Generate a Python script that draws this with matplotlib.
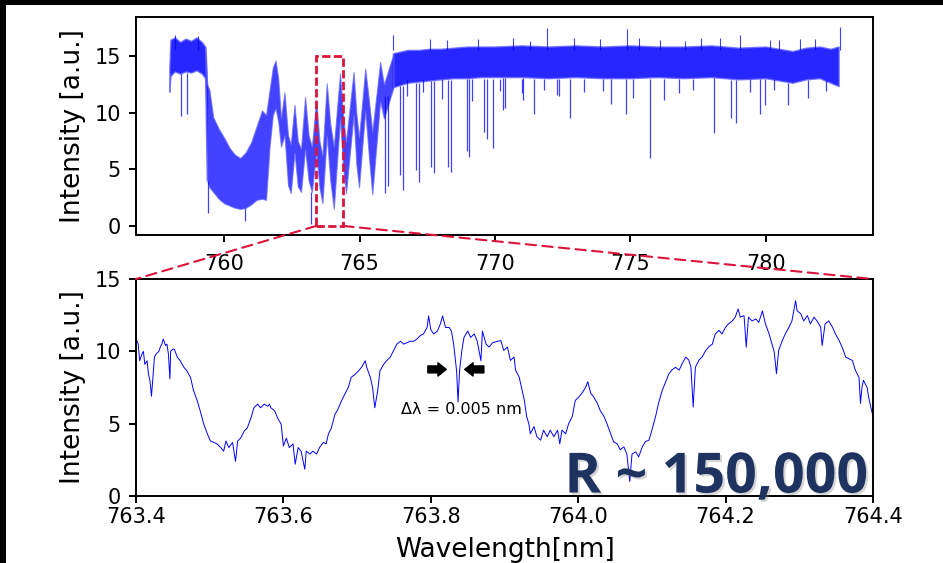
import matplotlib
matplotlib.use("Agg")
import matplotlib.pyplot as plt
import matplotlib.patheffects as pe
from matplotlib.patches import Rectangle, ConnectionPatch

# ---- full spectrum (upper panel): envelope of the dense noisy trace ----
top_wl = [758.00, 758.04, 758.20, 758.40, 758.60, 758.80, 759.00, 759.20, 759.32, 759.38,
          759.46, 759.60, 759.80, 760.00, 760.20, 760.40, 760.60, 760.80, 761.00, 761.20,
          761.40, 761.55, 761.68, 761.80, 761.90, 762.00, 762.10, 762.23, 762.36, 762.46,
          762.60, 762.72, 762.84, 762.99, 763.12, 763.24, 763.40, 763.52, 763.63, 763.79,
          763.92, 764.05, 764.28, 764.40, 764.50, 764.78, 764.88, 764.98, 765.21, 765.35,
          765.47, 765.76, 765.90, 766.25, 766.80, 767.20, 767.60, 768.00, 768.50, 769.00,
          769.50, 770.00, 771.00, 772.00, 773.00, 774.00, 775.00, 776.00, 777.00, 778.00,
          779.00, 780.00, 781.00, 781.50, 782.00, 782.40, 782.70]
top_hi = [14.0, 16.4, 16.6, 16.2, 16.5, 16.3, 16.6, 16.2, 15.8, 12.5,
          12.0, 9.6, 8.6, 7.8, 6.9, 6.3, 6.0, 6.5, 7.4, 8.8,
          10.2, 9.8, 12.0, 14.0, 14.6, 13.0, 9.5, 11.8, 8.0, 7.2,
          10.7, 7.5, 6.8, 11.4, 8.0, 7.0, 11.1, 7.5, 6.2, 12.6,
          9.0, 7.0, 13.5, 9.5, 7.4, 13.6, 10.0, 7.8, 13.9, 11.0,
          8.3, 14.5, 12.5, 15.2, 15.5, 15.5, 15.6, 15.6, 15.7, 15.8,
          15.8, 15.8, 15.9, 15.8, 15.9, 15.8, 15.9, 15.8, 15.8, 15.9,
          15.7, 15.8, 15.4, 15.7, 15.8, 15.6, 15.8]
top_lo = [11.8, 13.2, 13.6, 13.4, 13.6, 13.5, 13.7, 13.4, 13.0, 4.0,
          3.4, 3.0, 2.4, 2.0, 1.8, 1.6, 1.5, 1.6, 1.9, 2.3,
          2.4, 2.3, 7.0, 9.8, 10.4, 9.2, 7.0, 8.0, 3.6, 2.9,
          6.5, 3.5, 3.0, 6.8, 4.0, 3.0, 6.5, 3.4, 2.0, 8.0,
          4.0, 1.5, 9.5, 5.0, 2.9, 9.8, 5.5, 3.4, 10.2, 6.0,
          2.8, 11.0, 9.5, 12.2, 12.6, 12.7, 12.8, 12.9, 13.0, 13.0,
          13.1, 13.1, 13.1, 13.0, 13.1, 13.0, 13.0, 13.1, 13.0, 13.1,
          12.9, 13.0, 12.6, 12.9, 13.0, 12.6, 12.3]

# narrow absorption lines: position, minimum, level they drop from
dip_wl = [758.40, 758.62, 759.40, 760.78, 763.21, 765.94, 766.04, 766.50, 766.60, 767.08,
          767.18, 767.64, 767.75, 768.28, 768.38, 768.96, 769.04, 769.60, 769.70, 769.91,
          770.29, 770.38, 771.05, 771.45, 772.35, 772.75, 774.28, 774.84, 775.11, 775.73,
          776.22, 778.07, 778.71, 778.90, 779.77, 779.98, 780.80, 781.54,
          766.75, 767.36, 768.04, 769.15, 770.19, 770.99, 771.79, 772.28, 773.27, 774.00,
          776.80, 777.30, 779.40, 780.30, 782.20]
dip_min = [9.7, 9.9, 1.1, 0.4, 0.2, 2.9, 3.5, 4.5, 3.2, 4.9,
           3.9, 5.2, 4.7, 5.2, 4.8, 6.6, 6.1, 8.3, 7.7, 6.9,
           10.2, 10.4, 11.1, 9.9, 11.5, 9.5, 10.8, 9.9, 11.3, 6.0,
           11.1, 8.2, 9.5, 9.1, 9.9, 10.7, 10.7, 11.3,
           11.5, 11.8, 11.2, 11.0, 11.9, 11.7, 12.0, 11.6, 11.8, 11.9,
           11.7, 12.0, 11.8, 12.0, 11.9]
dip_top = [13.4, 13.5, 4.0, 1.6, 3.0, 11.5, 11.5, 12.4, 12.4, 12.6,
           12.6, 12.8, 12.8, 12.9, 12.9, 13.0, 13.0, 13.0, 13.0, 13.0,
           13.1, 13.1, 13.1, 13.0, 13.0, 13.0, 13.0, 13.0, 13.0, 13.0,
           13.0, 13.1, 12.9, 12.9, 13.0, 13.0, 12.6, 12.9,
           13.0, 13.0, 13.0, 13.0, 13.0, 13.0, 13.0, 13.0, 13.0, 13.0,
           13.0, 13.0, 13.0, 13.0, 13.0]

# upward noise spikes
spike_wl = [758.20, 759.05, 766.25, 767.61, 768.22, 769.39, 770.68, 771.30, 771.92, 772.90,
            773.88, 774.87, 775.30, 776.10, 777.00, 777.60, 778.32, 779.03, 780.16, 780.47,
            781.27, 781.82, 782.72]
spike_max = [16.9, 16.8, 16.9, 16.5, 16.4, 16.5, 16.6, 16.3, 17.5, 16.6,
             16.5, 17.4, 16.6, 16.4, 16.3, 16.6, 16.6, 16.9, 16.4, 16.4,
             16.5, 16.5, 17.6]

# ---- zoomed spectrum (lower panel) ----
zoom_wl = [763.400, 763.403, 763.405, 763.408, 763.410, 763.412, 763.415, 763.417, 763.419, 763.421,
           763.423, 763.425, 763.427, 763.431, 763.433, 763.435, 763.437, 763.440, 763.442, 763.444,
           763.446, 763.447, 763.450, 763.452, 763.456, 763.460, 763.465, 763.469, 763.474, 763.478,
           763.483, 763.487, 763.492, 763.497, 763.501, 763.506, 763.510, 763.515, 763.519, 763.522,
           763.526, 763.531, 763.535, 763.538, 763.542, 763.547, 763.551, 763.556, 763.560, 763.565,
           763.569, 763.574, 763.579, 763.581, 763.583, 763.588, 763.592, 763.597, 763.600, 763.604,
           763.608, 763.613, 763.616, 763.620, 763.624, 763.629, 763.631, 763.636, 763.640, 763.645,
           763.649, 763.654, 763.658, 763.661, 763.665, 763.670, 763.674, 763.679, 763.683, 763.688,
           763.692, 763.697, 763.702, 763.706, 763.711, 763.713, 763.718, 763.721, 763.724, 763.728,
           763.731, 763.736, 763.740, 763.745, 763.749, 763.754, 763.759, 763.763, 763.768, 763.772,
           763.777, 763.781, 763.786, 763.790, 763.795, 763.797, 763.800, 763.804, 763.809, 763.813,
           763.816, 763.820, 763.825, 763.828, 763.831, 763.835, 763.837, 763.839, 763.842, 763.845,
           763.850, 763.854, 763.859, 763.863, 763.868, 763.870, 763.875, 763.879, 763.884,
           763.895, 763.899, 763.904, 763.908, 763.913, 763.915, 763.920, 763.924, 763.927, 763.930,
           763.933, 763.935, 763.940, 763.944, 763.949, 763.953, 763.958, 763.962, 763.967, 763.972,
           763.975, 763.978, 763.983, 763.987, 763.992, 763.996, 764.001, 764.005, 764.010, 764.013,
           764.017, 764.021, 764.026, 764.030, 764.035, 764.039, 764.044, 764.048, 764.053, 764.057,
           764.062, 764.066, 764.070, 764.073, 764.078, 764.082, 764.087, 764.091, 764.096, 764.100,
           764.105, 764.109, 764.114, 764.118, 764.123, 764.127, 764.132, 764.137, 764.141, 764.146,
           764.150, 764.153, 764.156, 764.159, 764.164, 764.168, 764.173, 764.177, 764.182, 764.186,
           764.191, 764.195, 764.200, 764.204, 764.209, 764.213, 764.217, 764.220, 764.225, 764.228,
           764.231, 764.236, 764.241, 764.245, 764.250, 764.254, 764.259, 764.263, 764.266, 764.269,
           764.272, 764.277, 764.281, 764.286, 764.290, 764.295, 764.297, 764.302, 764.306, 764.311,
           764.315, 764.320, 764.324, 764.329, 764.331, 764.335, 764.340, 764.345, 764.349, 764.354,
           764.358, 764.363, 764.367, 764.372, 764.376, 764.381, 764.383, 764.385, 764.387, 764.392,
           764.394, 764.397, 764.400]
zoom_int = [10.9, 10.5, 9.35, 9.8, 10.0, 9.1, 9.35, 8.4, 7.96, 6.9,
            8.2, 9.6, 9.8, 10.0, 10.3, 10.5, 10.85, 10.4, 10.5, 9.8,
            8.1, 10.0, 10.15, 10.15, 9.6, 9.35, 8.9, 8.65, 8.2, 7.3,
            6.6, 5.9, 4.96, 4.27, 3.8, 3.7, 3.6, 3.35, 3.1, 3.8,
            3.35, 3.7, 2.4, 3.8, 4.0, 4.5, 4.7, 5.4, 6.1, 6.35,
            6.1, 6.35, 6.2, 6.35, 6.1, 5.9, 5.4, 4.96, 3.46, 4.0,
            3.35, 3.6, 2.2, 3.35, 3.1, 1.85, 3.1, 2.9, 3.1, 2.9,
            3.35, 3.7, 3.6, 4.27, 4.7, 5.65, 6.0, 6.6, 7.0, 7.5,
            8.2, 8.4, 8.65, 8.9, 9.35, 8.9, 8.2, 7.5, 6.1, 7.3,
            8.65, 9.1, 9.35, 9.6, 10.0, 10.5, 10.7, 10.5, 10.6, 10.7,
            10.7, 10.85, 11.1, 11.2, 11.65, 12.45, 11.5, 11.2, 11.4, 11.9,
            12.45, 11.65, 11.65, 11.4, 10.5, 8.65, 6.5, 8.65, 10.0, 10.96,
            11.4, 10.96, 11.2, 10.7, 9.35, 11.4, 10.5, 10.3, 10.6,
            10.75, 10.06, 10.3, 9.37, 9.6, 8.7, 8.2, 7.3, 6.6, 5.5,
            5.0, 4.3, 4.8, 4.1, 3.86, 4.55, 4.1, 4.55, 4.1, 4.55,
            3.6, 4.55, 4.3, 5.0, 5.5, 6.6, 6.85, 7.1, 7.5, 7.9,
            7.1, 6.85, 6.4, 5.9, 5.5, 5.0, 4.3, 3.75, 3.6, 3.2,
            3.4, 2.9, 1.0, 2.9, 3.05, 2.7, 3.4, 3.75, 3.86, 4.55,
            5.5, 6.4, 7.3, 7.8, 8.45, 8.7, 8.9, 8.7, 9.15, 9.6,
            9.4, 8.9, 6.15, 8.9, 9.4, 9.6, 10.06, 10.3, 10.5, 11.2,
            11.45, 11.2, 11.67, 11.9, 12.1, 12.36, 12.93, 12.36, 12.47, 10.3,
            12.36, 12.1, 12.24, 12.0, 12.8, 11.9, 11.2, 10.5, 9.95, 8.45,
            10.06, 10.75, 11.2, 11.67, 12.1, 13.5, 12.8, 12.6, 12.1, 12.47,
            11.9, 12.36, 12.1, 11.67, 10.4, 11.9, 12.1, 11.67, 11.2, 10.75,
            10.3, 9.6, 9.5, 9.37, 8.7, 8.2, 6.4, 7.5, 8.0, 7.5,
            6.85, 6.15, 5.5]

top_ticks = [760, 765, 770, 775, 780]
zoom_ticks = [763.4, 763.6, 763.8, 764.0, 764.2, 764.4]
int_ticks = [0, 5, 10, 15]
zoom_lo, zoom_hi = 763.4, 764.4
zoom_ymax = 15

blue = "#0000ff"
red = "#dc143c"

fig = plt.figure(figsize=(9.43, 5.63), dpi=100)
W, H = 943, 563
ax1 = fig.add_axes([136 / W, 1 - 235 / H, 737 / W, 218 / H])
ax2 = fig.add_axes([136 / W, 1 - 496 / H, 737 / W, 217 / H])

# upper panel: the dense trace drawn as its envelope
# (the O2 band between ~759.3 and ~766.3 nm is less overplotted, so a bit lighter)
in_band = [759.32 <= w <= 766.25 for w in top_wl]
out_band = [w <= 759.38 or w >= 766.25 for w in top_wl]
ax1.fill_between(top_wl, top_lo, top_hi, where=out_band, facecolor=blue, alpha=0.85,
                 edgecolor="#6a6aff", lw=1.0)
ax1.fill_between(top_wl, top_lo, top_hi, where=in_band, facecolor=blue, alpha=0.74,
                 edgecolor="#6a6aff", lw=0.8)
ax1.vlines(dip_wl, dip_min, dip_top, color=blue, lw=0.9, alpha=0.75)
ax1.vlines(spike_wl, 15.5, spike_max, color=blue, lw=0.8, alpha=0.75)
ax1.add_patch(Rectangle((zoom_lo, 0), zoom_hi - zoom_lo, zoom_ymax, fill=False,
                        ec=red, lw=2.0, ls=(0, (3, 1.2)), zorder=5))
ax1.set_xlim(756.75, 783.95)
ax1.set_ylim(-0.8, 18.45)
ax1.set_xticks(top_ticks)
ax1.set_yticks(int_ticks)
ax1.set_ylabel("Intensity [a.u.]", fontsize=19)
ax1.yaxis.set_label_coords(-0.068, 0.5)

# lower panel
ax2.plot(zoom_wl, zoom_int, color=blue, lw=0.7)
ax2.set_xlim(zoom_lo, zoom_hi)
ax2.set_ylim(0, zoom_ymax)
ax2.set_xticks(zoom_ticks)
ax2.set_xticklabels([f"{t:.1f}" for t in zoom_ticks])
ax2.set_yticks(int_ticks)
ax2.set_ylabel("Intensity [a.u.]", fontsize=19)
ax2.yaxis.set_label_coords(-0.068, 0.5)
ax2.set_xlabel("Wavelength[nm]", fontsize=19)
ax2.xaxis.set_label_coords(0.5, -0.19)

for ax in (ax1, ax2):
    for s in ax.spines.values():
        s.set_linewidth(1.4)
    ax.tick_params(labelsize=15, length=5, width=1.4)
    ax.tick_params(axis="y", pad=6)
ax1.tick_params(axis="x", pad=9)
ax2.tick_params(axis="x", pad=3)

# resolution marker
arrow = dict(arrowstyle="simple,head_length=0.6,head_width=0.95,tail_width=0.5",
             fc="black", ec="black", shrinkA=0, shrinkB=0)
ax2.annotate("", xy=(763.821, 8.75), xytext=(763.796, 8.75), arrowprops=arrow)
ax2.annotate("", xy=(763.846, 8.75), xytext=(763.872, 8.75), arrowprops=arrow)
ax2.text(763.841, 5.95, "Δλ = 0.005 nm", ha="center", va="center", fontsize=11.5)

ax2.text(0.993, 0.016, "R ~ 150,000", transform=ax2.transAxes, ha="right", va="baseline",
         fontsize=40, fontweight="bold", family="Open Sans", color="#1f3361", zorder=10,
         path_effects=[pe.SimplePatchShadow(offset=(1.5, -1.5), shadow_rgbFace="#888888",
                                            alpha=0.35),
                       pe.Normal()])

# zoom connectors
for xv in (zoom_lo, zoom_hi):
    con = ConnectionPatch(xyA=(xv, 0), coordsA=ax1.transData, xyB=(xv, zoom_ymax),
                          coordsB=ax2.transData, color=red, lw=1.5, ls=(0, (5, 3)))
    fig.add_artist(con)

# black frame strips at top and left of the slide
fig.add_artist(Rectangle((0, 1 - 5 / H), 1, 5 / H, transform=fig.transFigure,
                         fc="black", ec="none"))
fig.add_artist(Rectangle((0, 0), 6 / W, 1, transform=fig.transFigure,
                         fc="black", ec="none"))

fig.savefig("out.png", dpi=100)
